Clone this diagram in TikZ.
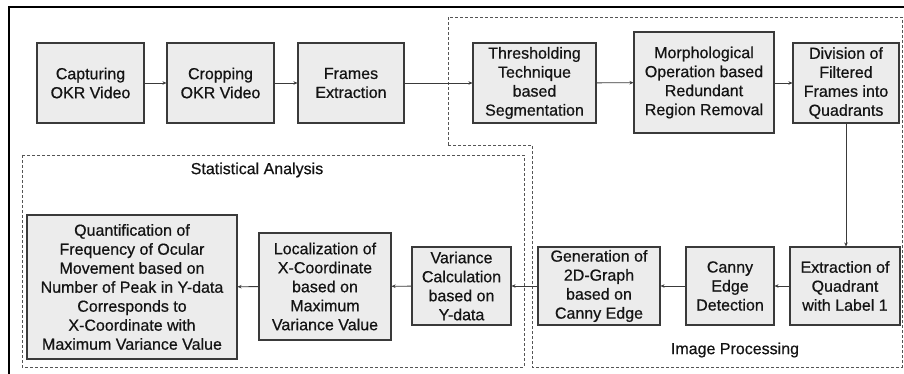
\documentclass[tikz,border=0pt]{standalone}
\usepackage{fontspec}
\setmainfont{Liberation Sans}
\newfontfamily\diagfont[FakeBold=0.6]{Liberation Sans}
\usetikzlibrary{arrows.meta}
\definecolor{boxfill}{HTML}{ECECEC}
\definecolor{boxline}{HTML}{3A3A3A}
\definecolor{txt}{HTML}{141414}
\definecolor{dashc}{HTML}{555555}
\begin{document}
\begin{tikzpicture}[x=1pt,y=-1pt,
  blk/.style={draw=boxline,fill=boxfill,line width=1.1pt,align=center,inner sep=0pt,
    font=\diagfont\fontsize{16}{19}\selectfont,text=txt},
  conn/.style={draw=boxline,line width=0.9pt,-{Stealth[length=4pt,width=3.5pt]}},
  region/.style={draw=dashc,line width=0.9pt,dash pattern=on 3pt off 2pt},
  lbl/.style={font=\diagfont\fontsize{16}{19}\selectfont,text=txt,inner sep=0pt}]
\clip (0,0) rectangle (904,374);
\useasboundingbox (0,0) rectangle (904,374);
% outer frame
\draw[line width=2pt,black] (9,380) -- (9,7) -- (910,7);
% dashed regions
\draw[region] (448,145) -- (448,17) -- (902,17) -- (902,367) -- (532,367) -- (532,145) -- cycle;
\draw[region] (22,155) rectangle (524,367);
\node[lbl] (sa) at (257,170) {Statistical Analysis};
\node[lbl] (ip) at (735,350) {Image Processing};
% top row
\node[blk,minimum width=107pt,minimum height=80pt] (cap) at (90.5,83) {Capturing\\OKR Video};
\node[blk,minimum width=107pt,minimum height=80pt] (crop) at (220.5,83) {Cropping\\OKR Video};
\node[blk,minimum width=106pt,minimum height=80pt] (frm) at (351,83) {Frames\\Extraction};
\node[blk,minimum width=123pt,minimum height=80pt] (thr) at (534.5,83) {Thresholding\\Technique\\based\\Segmentation};
\node[blk,minimum width=140pt,minimum height=101pt] (mor) at (704,82.5) {Morphological\\Operation based\\Redundant\\Region Removal};
\node[blk,minimum width=106pt,minimum height=80pt] (div) at (846,83) {Division of\\Filtered\\Frames into\\Quadrants};
% bottom row
\node[blk,minimum width=110pt,minimum height=78pt] (ext) at (845,286) {Extraction of\\Quadrant\\with Label 1};
\node[blk,minimum width=88pt,minimum height=78pt] (can) at (730,286) {Canny\\Edge\\Detection};
\node[blk,minimum width=122pt,minimum height=78pt] (gen) at (599,286) {Generation of\\2D-Graph\\based on\\Canny Edge};
\node[blk,minimum width=99pt,minimum height=78pt] (var) at (461.5,286) {Variance\\Calculation\\based on\\Y-data};
\node[blk,minimum width=132pt,minimum height=107pt] (loc) at (325,286.5) {Localization of\\X-Coordinate\\based on\\Maximum\\Variance Value};
\node[blk,minimum width=210pt,minimum height=144pt] (qua) at (132,287) {Quantification of\\Frequency of Ocular\\Movement based on\\Number of Peak in Y-data\\Corresponds to\\X-Coordinate with\\Maximum Variance Value};
% connectors
\draw[conn] (cap) -- (crop);
\draw[conn] (crop) -- (frm);
\draw[conn] (frm) -- (thr);
\draw[conn] (thr) -- (mor);
\draw[conn] (mor.east |- div.west) -- (div.west);
\draw[conn] (div) -- (div |- ext.north);
\draw[conn] (ext) -- (can);
\draw[conn] (can) -- (gen);
\draw[conn] (gen) -- (var);
\draw[conn] (var) -- (loc);
\draw[conn] (loc) -- (qua);
\end{tikzpicture}
\end{document}
